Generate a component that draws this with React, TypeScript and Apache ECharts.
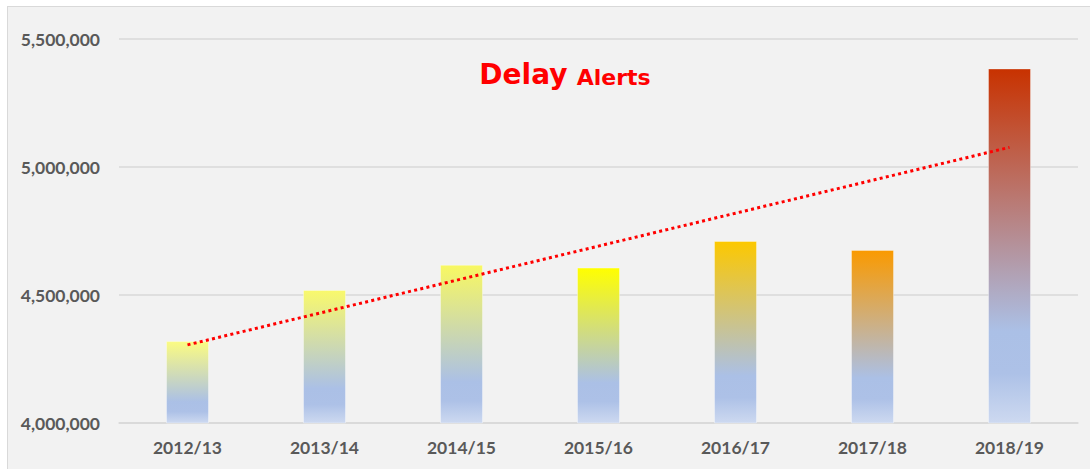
import React, { useEffect, useRef } from "react";
import * as echarts from "echarts";

const categories = ["2012/13", "2013/14", "2014/15", "2015/16", "2016/17", "2017/18", "2018/19"];
const alerts = [4320000, 4520000, 4618000, 4607000, 4711000, 4676000, 5385000];
const topColors = ["#fbfb82", "#f9f96c", "#f8f862", "#ffff00", "#fcc800", "#fa9a00", "#c83200"];
const yMin = 4000000;
const yMax = 5500000;
const yInterval = 500000;

// linear trendline (least squares) from the bar values
function trend(values: number[]): number[] {
  const n = values.length;
  const mx = (n - 1) / 2;
  const my = values.reduce((a, b) => a + b, 0) / n;
  let sxy = 0;
  let sxx = 0;
  values.forEach((v, i) => {
    sxy += (i - mx) * (v - my);
    sxx += (i - mx) * (i - mx);
  });
  const k = sxy / sxx;
  return values.map((_, i) => my + k * (i - mx));
}

const FONT = "Lato, 'Open Sans', sans-serif";
const TITLE_FONT = "'DejaVu Sans', sans-serif";

export default function App() {
  const ref = useRef<HTMLDivElement>(null);
  useEffect(() => {
    if (!ref.current) return;
    const chart = echarts.init(ref.current, undefined, { renderer: "svg" });
    const trendData = trend(alerts);
    chart.setOption({
      animation: false,
      backgroundColor: "#f2f2f2",
      grid: { left: 111, right: 12, top: 32, bottom: 46 },
      graphic: [
        {
          type: "text",
          x: 557,
          y: 67,
          style: {
            text: "{a|Delay} {b|Alerts}",
            align: "center",
            verticalAlign: "middle",
            rich: {
              a: { fontFamily: TITLE_FONT, fontWeight: "bold", fontSize: 28, fill: "#ff0000", verticalAlign: "bottom" },
              b: {
                fontFamily: TITLE_FONT,
                fontWeight: "bold",
                fontSize: 22,
                fill: "#ff0000",
                verticalAlign: "bottom",
                padding: [0, 0, 0, 6],
              },
            },
          },
        },
      ],
      xAxis: {
        type: "category",
        data: categories,
        axisLine: { show: true, lineStyle: { color: "#d9d9d9", width: 1.5 } },
        axisTick: { show: false },
        axisLabel: {
          color: "#595959",
          fontFamily: FONT,
          fontWeight: "bold",
          fontSize: 17.5,
          margin: 15,
        },
      },
      yAxis: {
        type: "value",
        min: yMin,
        max: yMax,
        interval: yInterval,
        axisLine: { show: false },
        axisTick: { show: false },
        splitLine: { lineStyle: { color: "#d9d9d9", width: 1.5 } },
        axisLabel: {
          color: "#595959",
          fontFamily: FONT,
          fontWeight: "bold",
          fontSize: 17.5,
          margin: 19,
          formatter: (v: number) => v.toLocaleString("en-US"),
        },
      },
      series: [
        {
          type: "bar",
          barWidth: 43,
          data: alerts.map((v, i) => ({
            value: v,
            itemStyle: {
              color: new echarts.graphic.LinearGradient(0, 0, 0, 1, [
                { offset: 0, color: topColors[i] },
                { offset: 0.74, color: "#abc0e6" },
                { offset: 0.86, color: "#adc1e7" },
                { offset: 1, color: "#cdd9f0" },
              ]),
              borderColor: "rgba(255,255,255,0.35)",
              borderWidth: 1,
            },
          })),
          z: 2,
        },
        {
          type: "line",
          data: trendData,
          symbol: "none",
          lineStyle: { color: "#ff0000", width: 3, type: [3, 3.3], cap: "butt" },
          z: 5,
        },
      ],
    });
    return () => chart.dispose();
  }, []);
  return (
    <div
      style={{
        position: "absolute",
        left: 7,
        top: 6,
        width: 1083,
        height: 463,
        boxSizing: "border-box",
        borderTop: "1px solid #d9d9d9",
        borderLeft: "1px solid #d9d9d9",
        background: "#f2f2f2",
      }}
    >
      <div ref={ref} style={{ width: 1082, height: 462 }} />
    </div>
  );
}
